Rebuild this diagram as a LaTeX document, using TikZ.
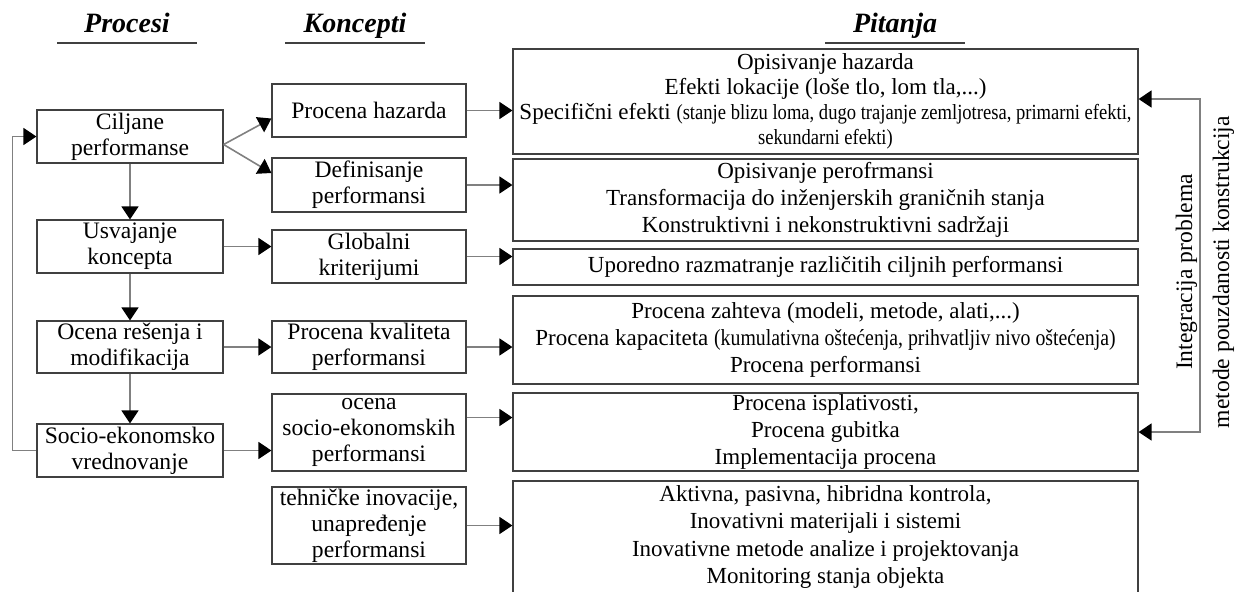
\documentclass[tikz,border=0pt]{standalone}
\usepackage{fontspec}
\setmainfont{Liberation Serif}
\newfontfamily\narrowfont[FakeStretch=0.86]{Liberation Serif}
\usetikzlibrary{arrows.meta}
\definecolor{boxcol}{gray}{0.25}
\definecolor{linecol}{gray}{0.5}
\begin{document}
\begin{tikzpicture}[x=0.5pt,y=-0.5pt,
  >={Triangle[length=6.5pt,width=8.5pt,color=black]},
  every node/.style={font=\fontsize{11.8}{13}\selectfont},
  box/.style={draw=boxcol,line width=0.6pt,inner sep=0pt,align=center},
  lbox/.style={box,minimum width=93pt},
  mbox/.style={box,minimum width=97pt},
  rbox/.style={box,minimum width=312.5pt,font=\fontsize{11.5}{13.6}\selectfont},
  hdr/.style={font=\fontsize{14}{16}\bfseries\itshape\selectfont,anchor=base,inner sep=0pt},
  uline/.style={draw=boxcol,line width=0.6pt},
  conn/.style={draw=linecol,line width=0.8pt,->},
  conn2/.style={draw=linecol,line width=0.8pt,<->}]
\useasboundingbox (0,0) rectangle (1240,591);
\clip (0,0) rectangle (1240,591);
% headers
\node[hdr] (hproc) at (127,32) {Procesi};
\node[hdr] (hkonc) at (355,32) {Koncepti};
\node[hdr] (hpit) at (895,32) {Pitanja};
\draw[uline] ([xshift=-35pt,yshift=-5.5pt]hproc.base) -- ([xshift=35pt,yshift=-5.5pt]hproc.base);
\draw[uline] ([xshift=-35pt,yshift=-5.5pt]hkonc.base) -- ([xshift=35pt,yshift=-5.5pt]hkonc.base);
\draw[uline] ([xshift=-35pt,yshift=-5.5pt]hpit.base) -- ([xshift=35pt,yshift=-5.5pt]hpit.base);
% left column
\node[lbox,minimum height=26.5pt] (cilj) at (130,136.5) {Ciljane\\performanse};
\node[lbox,minimum height=26.5pt] (usv) at (130,246.5) {Usvajanje\\koncepta};
\node[lbox,minimum height=26pt] (ocen) at (130,347) {Ocena rešenja i\\modifikacija};
\node[lbox,minimum height=26.5pt] (soc) at (130,450.5) {Socio-ekonomsko\\vrednovanje};
% middle column
\node[mbox,minimum height=26.5pt] (hz) at (369,110.5) {Procena hazarda};
\node[mbox,minimum height=27pt] (def) at (369,185) {Definisanje\\performansi};
\node[mbox,minimum height=26.5pt] (glob) at (369,256.5) {Globalni\\kriterijumi};
\node[mbox,minimum height=26pt] (kval) at (369,347) {Procena kvaliteta\\performansi};
\node[mbox,minimum height=38.5pt] (osoc) at (369,432.5) {ocena\\socio-ekonomskih\\performansi};
\node[mbox,minimum height=38.5pt] (teh) at (369,525.5) {tehničke inovacije,\\unapređenje\\performansi};
% right column
\node[rbox,minimum height=52.5pt,font=\fontsize{11.5}{12.6}\selectfont] (b1) at (825.5,101.5) {Opisivanje hazarda\\Efekti lokacije (loše tlo, lom tla,...)\\Specifični efekti {\narrowfont\fontsize{10.8}{11.6}\selectfont(stanje blizu loma, dugo trajanje zemljotresa, primarni efekti,}\\{\narrowfont\fontsize{10.8}{11.6}\selectfont sekundarni efekti)}};
\node[rbox,minimum height=41pt] (b2) at (825.5,200) {Opisivanje perofrmansi\\Transformacija do inženjerskih graničnih stanja\\Konstruktivni i nekonstruktivni sadržaji};
\node[rbox,minimum height=18pt] (b3) at (825.5,267) {Uporedno razmatranje različitih ciljnih performansi};
\node[rbox,minimum height=44pt] (b4) at (825.5,340) {Procena zahteva (modeli, metode, alati,...)\\Procena kapaciteta {\narrowfont(kumulativna oštećenja, prihvatljiv nivo oštećenja)}\\Procena performansi};
\node[rbox,minimum height=39pt] (b5) at (825.5,432) {Procena isplativosti,\\Procena gubitka\\Implementacija procena};
\node[rbox,minimum height=56pt] (b6) at (825.5,537) {Aktivna, pasivna, hibridna kontrola,\\Inovativni materijali i sistemi\\Inovativne metode analize i projektovanja\\Monitoring stanja objekta};
% vertical text
\node[rotate=90,align=center,font=\fontsize{11.8}{18.5}\selectfont] (vt) at (1205,272) {Integracija problema\\metode pouzdanosti konstrukcija};
% connectors
\draw[conn] (cilj.south) -- (usv.north);
\draw[conn] (usv.south) -- (ocen.north);
\draw[conn] (ocen.south) -- (soc.north);
\draw[conn] (soc.west) -- ++(-24,0) |- (cilj.west);
\draw[conn] ([yshift=-4pt]cilj.east) -- ([yshift=-4pt]hz.west);
\draw[conn] ([yshift=-4pt]cilj.east) -- ([yshift=6pt]def.west);
\draw[conn] (usv.east) -- (usv.east -| glob.west);
\draw[conn] (ocen.east) -- (kval.west);
\draw[conn] (soc.east) -- (soc.east -| osoc.west);
\draw[conn] (hz.east) -- (hz.east -| b1.west);
\draw[conn] (def.east) -- (def.east -| b2.west);
\draw[conn] (glob.east) -- (glob.east -| b3.west);
\draw[conn] (kval.east) -- (kval.east -| b4.west);
\draw[conn] ([yshift=7.5pt]osoc.east) -- ([yshift=7.5pt]osoc.east -| b5.west);
\draw[conn] (teh.east) -- (teh.east -| b6.west);
\coordinate (rt) at (1200,99);
\coordinate (rb) at (1200,432);
\draw[conn2] (rt -| b1.east) -- (rt) -- (rb) -- (rb -| b5.east);
\end{tikzpicture}
\end{document}
